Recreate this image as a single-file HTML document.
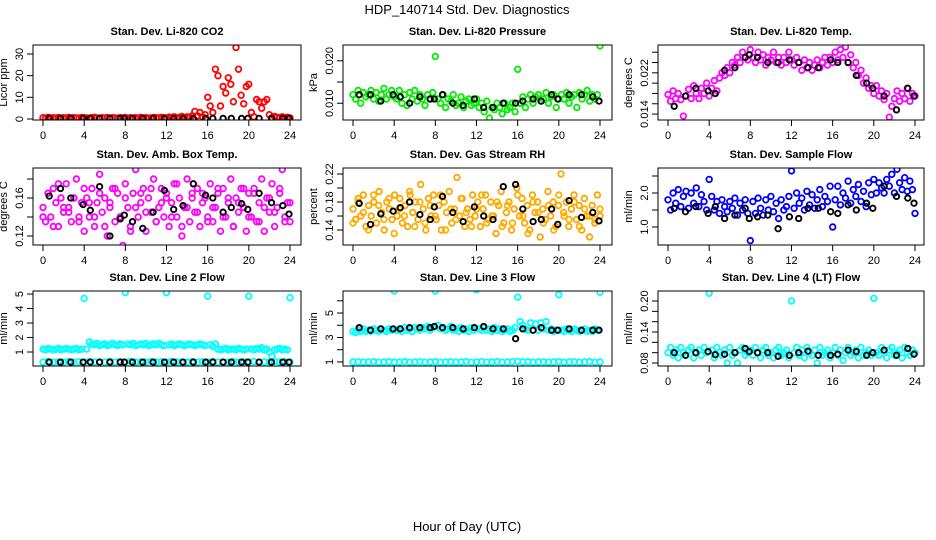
<!DOCTYPE html>
<html><head><meta charset="utf-8">
<style>
html,body{margin:0;padding:0;background:#fff;}
svg{display:block;font-family:"Liberation Sans",Arial,sans-serif;}
</style></head>
<body>
<svg id="chart" width="936" height="540" viewBox="0 0 936 540">
<text x="467" y="14" text-anchor="middle" font-size="13">HDP_140714  Std. Dev. Diagnostics</text>
<text x="467" y="531" text-anchor="middle" font-size="13">Hour of Day (UTC)</text>
</svg>
<script>
// ---- data ----
const xTickLabels = ["0","4","8","12","16","20","24"];
const blackHours = [0.6,1.7,2.7,3.9,4.6,5.5,6.5,7.5,7.9,8.7,9.7,10.7,11.8,12.7,13.6,14.6,15.8,16.5,17.5,18.3,19.3,19.9,21,22.2,23.3,23.9];

const co2Vals = [0.6,0.4,0.8,0.5,0.6,0.4,0.7,0.5,0.6,0.4,0.8,0.5,0.6,0.5,0.4,0.7,0.6,0.5,0.4,0.6,0.8,0.5,0.4,0.6,0.5,0.7,0.4,0.6,0.5,0.4,0.6,0.5,0.7,0.4,0.6,0.5,0.6,0.4,0.8,0.5,0.6,0.4,0.5,0.7,0.6,0.5,0.8,0.6,0.5,0.9,0.7,1.0,0.6,0.8,1.2,0.7,1.0,0.8,1.5,3.5,1.5,3,1,2,10,6,3,23,20,6,15,12,19,16,8,33,23,11,7,15,16,3,1,9,8,5,8,9,2,0.6,1.2,0.8,0.6,1.0,0.6,0.8,0.5];
const co2Black = [0.3,0.3,0.3,0.3,0.3,0.3,0.3,0.3,0.3,0.3,0.3,0.3,0.3,0.3,0.3,0.3,0.3,0.3,0.3,0.3,0.3,0.3,0.3,0.3,0.3,0.3];

const pressVals = [12,11,13,10,12.5,11.5,12,13,11,12.5,10.5,12,13.5,11,12,13,11.5,
11,13,10,12,9.5,12.5,11,13,10.5,12,11,9.5,12,11,12.5,21,
11,10,12,9,11,10.5,12,9.5,10,11.5,9,10.5,11,9.5,10,11,
9,10,8,10.5,6.5,9,8.5,10,9,7.5,10,8.5,9,10,8,18,
10,11.5,9,11,12,10,11.5,12,10.5,11,12.5,10,11.5,12,9,11,
12,11,12.5,10,11.5,12,9,12.5,11,12,13,10.5,12,11,12,23.5];
const pressBlack = [12,12,10.5,12,11.5,10,11.5,11,11,12,10,9.5,11,9,9,10,10,10.5,11,10.5,12,11,12,12,11.5,10.5];

const tempVals = [17.8,16.5,18.5,17,18,16.8,13.6,17.5,18.8,17,19.5,18,17,19,18,20,17.5,
19,20.5,18.5,21,22,21.5,23,22,24,23.5,25,24,26,25,24.5,26.5,
25,24,26,24.5,25.5,23.5,25,24.5,26,24,25,23.5,25,24,26,24.5,
23.5,25,24,22.5,24.5,23,24,22.5,23.5,24.5,23,24,25,23.5,25,24,
26,24.5,26.5,25,27,24,25.5,23,24,21.5,22.5,20,21,19,19.5,18,
19.5,17.5,18.5,16.8,18,13.4,15.5,17,18.5,16.5,18,17,19,16.5,18,17.5];
const tempBlack = [15.5,17.5,19,18.5,18,22.5,23,25,25.5,25,24,24,24.5,24,23,23,24.5,24,24,21.5,20,19,17.5,14.8,19,17.5];

const boxVals = [15,13.5,16.5,14,17,15.5,13,16,14.5,17.5,15,13.5,16,18,14,15.5,12.5,
16,14,17,13,15.5,18.5,14.5,16,12,15,17,13.5,16.5,14,11,17.5,
15,13,16.5,19,14,15.5,17,12.5,16,14.5,18,13.5,15,17,14,16.5,
13,15.5,17.5,14,16,12,15,18,13.5,16.5,14.5,17,13,15.5,16,14,
17.5,13.5,15,16.5,12.5,17,14,15.5,18,13,16,14.5,17,15,12.5,16.5,
14,17,13.5,15.5,18,12.5,16,14.5,17.5,13,15,16.5,19,14,15.5,13.5];
const boxVals2 = [14,16.5,13,17.5,15,14.5,16,13.5,17,15.5,14,16.5,13,15.5,17,14,16,12.5,15,16.5,14.5,17,13.5,15.5,16,14,17.5,13,15,16,14.5,16.5,13.5,15,17,14,16,13,15.5,17,14,16.5,13.5,15,16,14.5,17,13.5,15.5];
const boxBlack = [16.2,17,16,15.3,14.7,17.2,12,13.8,14.2,13.5,12.8,14.5,16.8,14.8,15.2,17.5,16.3,16,14.5,15,15.4,14.8,16.5,15.5,15.2,14.3];

const rhVals = [17,15.5,18.5,16,19,14.5,17.5,16,18,15,19.5,16.5,14,18,17,15.5,19,
16,18.5,15,17.5,14.5,19,16.5,18,15.5,20.5,17,14,18.5,16,19,
15.5,17.5,14,18,16.5,19.5,15,17,21.5,16,18.5,14.5,17,15.5,19,16,
18,14.5,17,19,15.5,18,16,13.5,17.5,19.5,15,16.5,18,14,17,20,
16,18.5,15,17.5,14,19,16.5,18,13,17,15.5,19.5,16,18,14.5,17.5,
22,16.5,18,14.5,17,19,15.5,17.5,14,18.5,16,13,17.5,15,19,16];
const rhVals2 = [15,18,16.5,14,19,17.5,15.5,18.5,13.5,17,16,19.5,14.5,18,15,17.5,16,19,14,17,15.5,18.5,16.5,14.5,17,19,15,16,18,14.5,17.5,15,19,16,13.5,18,16.5,15,17.5,14,19,16,15.5,18,14.5,17,16,15.5,17];
const rhBlack = [17.8,14.8,16.3,16.7,17.2,18,16.2,15.5,17.3,18.8,16.5,15.2,17.3,16,15.5,20.2,20.5,17,15.2,15.5,17,14.8,18.2,15.8,16.5,15.3];

const flowVals = [1.8,1.5,2.0,1.7,2.1,1.6,1.9,2.05,1.55,2.0,1.7,2.15,1.6,1.95,1.75,1.5,2.4,
1.9,1.5,1.75,1.4,1.8,1.6,1.45,1.75,1.55,1.85,1.35,1.7,1.5,1.8,1.4,0.6,
1.75,1.4,1.85,1.55,1.35,1.8,1.5,1.9,1.45,1.7,1.25,1.8,1.5,1.6,1.9,2.65,
1.55,2.0,1.7,1.85,1.5,2.05,1.65,1.95,1.55,1.8,2.1,1.6,1.9,1.75,2.2,1.0,
1.8,2.2,1.65,2.0,1.85,2.35,1.7,2.1,1.9,2.25,1.75,2.05,1.6,2.3,1.95,2.4,
2.0,2.3,2.15,2.0,2.4,2.2,2.55,2.0,2.7,2.3,2.1,2.45,2.05,2.35,2.1,1.4];
const flowBlack = [1.55,1.45,1.6,1.4,1.6,1.25,1.35,1.55,1.25,1.3,1.35,0.95,1.3,1.25,1.55,1.55,1.45,1.4,1.65,1.5,1.7,1.55,2.2,1.9,1.85,1.7];

const line2Vals = [1.2,1.15,1.25,1.2,1.15,1.2,1.25,1.15,1.2,1.25,1.2,1.15,1.2,1.25,1.15,1.2,4.7,
1.2,1.7,1.55,1.5,1.6,1.45,1.5,1.55,1.45,1.5,1.6,1.5,1.45,1.55,1.5,5.1,
1.55,1.5,1.6,1.45,1.5,1.55,1.5,1.6,1.45,1.5,1.55,1.5,1.6,1.5,1.45,5.1,
1.5,1.55,1.45,1.5,1.55,1.5,1.45,1.5,1.55,1.5,1.45,1.5,1.55,1.5,1.45,4.85,
1.5,1.4,1.55,1.2,1.15,1.2,1.25,1.15,1.2,1.2,1.15,1.25,1.2,1.15,1.2,4.85,
1.2,1.15,1.25,1.2,1.3,1.15,1.2,1.0,0.7,1.15,1.2,1.25,1.15,1.2,1.15,4.75];
const line2Low = [0.3,0.35,0.3,0.32,0.3,0.35,0.3,0.33,0.3,0.35,0.3,0.32,0.3,0.35,0.3,0.33,0.3,0.35,0.3,0.32,0.3,0.35,0.3,0.33,0.3,0.35,0.3,0.32,0.3,0.35,0.3,0.33,0.3,0.35,0.3,0.32,0.3,0.35,0.3,0.33,0.3,0.35,0.3,0.32,0.3,0.35,0.3,0.33,0.3];
const line2Black = [0.3,0.3,0.3,0.3,0.3,0.3,0.3,0.3,0.3,0.3,0.3,0.3,0.3,0.3,0.3,0.3,0.3,0.3,0.3,0.3,0.3,0.3,0.3,0.3,0.3,0.3];

const line3Vals = [3.5,3.4,3.6,3.5,3.7,3.5,3.6,3.5,3.7,3.6,3.5,3.7,3.6,3.5,3.7,3.6,6.8,
3.6,3.7,3.5,3.8,3.6,3.7,3.5,3.8,3.7,3.6,3.8,3.7,3.9,3.6,3.8,6.8,
4.0,3.7,3.8,3.6,3.7,3.9,3.6,3.7,3.5,3.8,3.6,3.7,3.5,3.8,3.6,6.9,
3.7,3.6,3.8,3.6,3.7,3.5,3.8,3.6,3.7,3.5,3.6,3.7,3.5,3.6,3.8,6.3,
4.3,4.0,3.7,3.6,4.2,3.6,4.1,3.6,4.2,3.7,4.3,3.6,3.7,3.5,3.6,6.5,
3.6,3.5,3.7,3.6,3.5,3.7,3.6,3.5,3.6,3.7,3.5,3.6,3.5,3.7,3.6,6.7];
const line3Low = [1.0,1.02,0.98,1.0,1.03,0.97,1.0,1.02,0.98,1.0,1.03,0.97,1.0,1.02,0.98,1.0,1.03,0.97,1.0,1.02,0.98,1.0,1.03,0.97,1.0,1.02,0.98,1.0,1.03,0.97,1.0,1.02,1.05,1.0,1.03,0.97,1.0,1.02,0.98,1.0,1.03,0.97,1.0,1.02,0.98,1.0,1.03,0.97,1.0];
const line3Black = [3.8,3.6,3.7,3.7,3.7,3.8,3.8,3.8,3.9,3.8,3.8,3.7,3.8,3.9,3.7,3.7,2.9,3.7,3.6,3.8,3.6,3.6,3.7,3.6,3.6,3.6];

const line4Vals = [10,11,9.5,10.5,9,11,10,9.5,10.5,11,9,10,10.5,9.5,11,10,21.5,
10.5,9,11,10,9.5,10.5,8,11,9.5,10,8,10.5,11,9.5,10,10.5,
9.5,11,10,9,10.5,11,9.5,10,9,10.5,11,9.5,10,10.5,9,20,
10,11,9.5,10.5,9,11,10,9.5,10.5,8,11,9.5,10,10.5,9,10,
11,9.5,10.5,8.5,10,11,9.5,10,10.5,9,11,9.5,10,10.5,9.5,20.5,
10,9.5,11,10,9,10.5,11,9.5,10,10.5,9,11,10,9.5,10.5,10];
const line4Black = [10,9.5,10,10.2,9.6,9.7,10,10.8,10.2,10,10,9.3,9.5,10,10.3,9.5,9.5,9.7,10.5,10.2,9.5,10,10.5,9.5,10.8,9.7];

// ---- layout (not data) ----
const cols = [[33,301],[343,612],[658,924]];
const rows = [[45,120],[168,245],[291,366]];
const panels = [
 {name:"co2",title:"Stan. Dev. Li-820 CO2",ylab:"Licor ppm",c:0,r:0,ylim:[-0.46,34.15],ticks:[0,10,20,30],tl:["0","10","20","30"],series:[[co2Vals,"#ff0000"]],black:co2Black},
 {name:"pressure",title:"Stan. Dev. Li-820 Pressure",ylab:"kPa",c:1,r:0,ylim:[6.05,23.72],ticks:[10,15,20],tl:["0.010","","0.020"],series:[[pressVals,"#00ee00"]],black:pressBlack},
 {name:"temp",title:"Stan. Dev. Li-820 Temp.",ylab:"degrees C",c:2,r:0,ylim:[12.85,27.4],ticks:[14,16,18,20,22,24,26],tl:["0.014","","","","0.022","",""],series:[[tempVals,"#ff00ff"]],black:tempBlack},
 {name:"box-temp",title:"Stan. Dev. Amb. Box Temp.",ylab:"degrees C",c:0,r:1,ylim:[11.05,19.16],ticks:[12,14,16,18],tl:["0.12","","0.16",""],series:[[boxVals,"#ff00ff"],[boxVals2,"#ff00ff"]],black:boxBlack},
 {name:"rh",title:"Stan. Dev. Gas Stream RH",ylab:"percent",c:1,r:1,ylim:[11.86,22.86],ticks:[14,16,18,20,22],tl:["0.14","","0.18","","0.22"],series:[[rhVals,"#ffa500"],[rhVals2,"#ffb000"]],black:rhBlack},
 {name:"sample-flow",title:"Stan. Dev. Sample Flow",ylab:"ml/min",c:2,r:1,ylim:[0.47,2.735],ticks:[1,1.5,2,2.5],tl:["1.0","","2.0",""],series:[[flowVals,"#0000ff"]],black:flowBlack},
 {name:"line2",title:"Stan. Dev. Line 2 Flow",ylab:"ml/min",c:0,r:2,ylim:[0.034,5.21],ticks:[1,2,3,4,5],tl:["1","2","3","4","5"],series:[[line2Vals,"#00ffff"],[line2Low,"#00ffff"]],black:line2Black},
 {name:"line3",title:"Stan. Dev. Line 3 Flow",ylab:"ml/min",c:1,r:2,ylim:[0.67,6.8],ticks:[1,2,3,4,5,6],tl:["1","","3","","5",""],series:[[line3Vals,"#00ffff"],[line3Low,"#00ffff"]],black:line3Black},
 {name:"line4",title:"Stan. Dev. Line 4 (LT) Flow",ylab:"ml/min",c:2,r:2,ylim:[7.42,21.94],ticks:[8,10,12,14,16,18,20],tl:["0.08","","","0.14","","","0.20"],series:[[line4Vals,"#00ffff"]],black:line4Black}
];
const NS="http://www.w3.org/2000/svg";
const svg=document.getElementById('chart');
function mk(tag,attrs,parent,text){const e=document.createElementNS(NS,tag);for(const k in attrs)e.setAttribute(k,attrs[k]);if(text!==undefined)e.textContent=text;parent.appendChild(e);return e;}

panels.forEach(p=>{
  const [L,R]=cols[p.c],[T,B]=rows[p.r];
  const g=mk('g',{},svg);
  
  
  const xs=h=>L+10+h*(247/24);
  const ys=v=>B-(v-p.ylim[0])/(p.ylim[1]-p.ylim[0])*(B-T);
  const clipId='clip-'+p.name;
  const cp=mk('clipPath',{id:clipId},g);mk('rect',{x:L,y:T,width:R-L,height:B-T},cp);
  const pts=mk('g',{'clip-path':'url(#'+clipId+')'},g);
  p.series.forEach((s,si)=>{
    const vals=s[0],n=vals.length;
    vals.forEach((v,i)=>{
      const c=mk('circle',{cx:xs(i*24/(n-1)).toFixed(1),cy:ys(v).toFixed(1),r:2.8,fill:'none',stroke:s[1],'stroke-width':1.8},pts);
      
      
    });
  });
  p.black.forEach((v,i)=>{
    const c=mk('circle',{cx:xs(blackHours[i]).toFixed(1),cy:ys(v).toFixed(1),r:2.7,fill:'none',stroke:'#000','stroke-width':1.9},pts);
    
    
  });
  const box=mk('rect',{x:L,y:T,width:R-L,height:B-T,fill:'none',stroke:'#000','stroke-width':1},g);
  
  
  const t=mk('text',{x:(L+R)/2,y:T-10,'text-anchor':'middle','font-size':11,'font-weight':'bold'},g,p.title);
  
  
  xTickLabels.forEach(lab=>{
    const x=xs(+lab);
    mk('line',{x1:x,x2:x,y1:B,y2:B+6,stroke:'#000'},g);
    const tx=mk('text',{x:x,y:B+19,'text-anchor':'middle','font-size':11},g,lab);
    
    
  });
  p.ticks.forEach((tv,i)=>{
    const y=ys(tv);
    mk('line',{x1:L-6,x2:L,y1:y,y2:y,stroke:'#000'},g);
    if(p.tl[i]){
      const ty=mk('text',{x:L-10,y:y,'text-anchor':'middle','font-size':11,transform:`rotate(-90 ${L-10} ${y})`},g,p.tl[i]);
      
      
    }
  });
  const yt=mk('text',{x:L-26,y:(T+B)/2,'text-anchor':'middle','font-size':11,transform:`rotate(-90 ${L-26} ${(T+B)/2})`},g,p.ylab);
  
  
});
</script>
</body></html>
